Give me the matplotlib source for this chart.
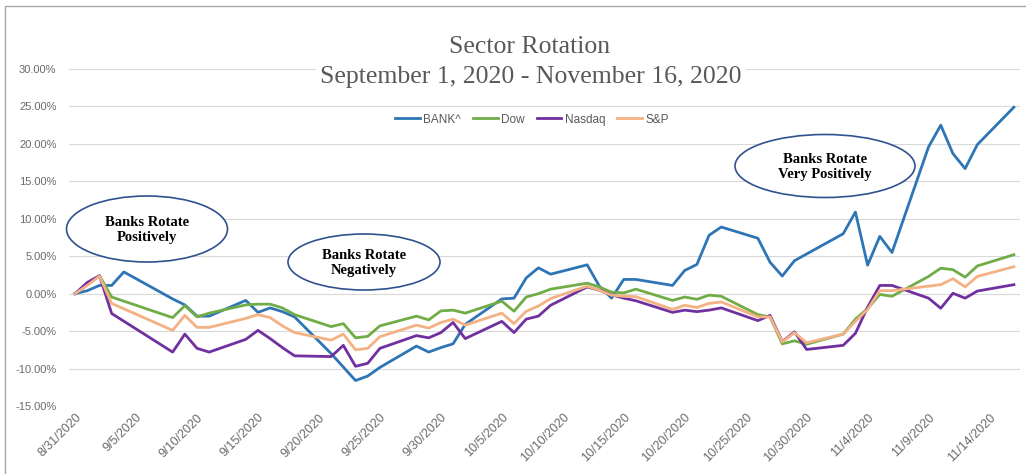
import numpy as np
import pandas as pd
import matplotlib
matplotlib.use("Agg")
import matplotlib.pyplot as plt
from matplotlib.patches import Ellipse, Rectangle
from matplotlib.ticker import FuncFormatter, MultipleLocator


# -----------------------------
# Data (percent change since 8/31/2020)
# -----------------------------
dates = [
    "8/31", "9/1", "9/2", "9/3", "9/4", "9/8", "9/9", "9/10", "9/11",
    "9/14", "9/15", "9/16", "9/17", "9/18", "9/21", "9/22", "9/23", "9/24",
    "9/25", "9/28", "9/29", "9/30", "10/1", "10/2", "10/5", "10/6", "10/7",
    "10/8", "10/9", "10/12", "10/13", "10/14", "10/15", "10/16", "10/19",
    "10/20", "10/21", "10/22", "10/23", "10/26", "10/27", "10/28", "10/29",
    "10/30", "11/2", "11/3", "11/4", "11/5", "11/6", "11/9", "11/10",
    "11/11", "11/12", "11/13", "11/16",
]

bank = [
    0.0, 0.4, 1.1, 1.1, 2.9, -0.7, -1.5, -3.0, -3.0,
    -0.9, -2.5, -1.9, -2.4, -3.1, -8.0, -9.8, -11.6, -11.0,
    -9.85, -7.0, -7.8, -7.2, -6.7, -4.1, -0.7, -0.6, 2.1,
    3.45, 2.6, 3.85, 1.0, -0.6, 1.9, 1.9, 1.1,
    3.1, 3.9, 7.8, 8.9, 7.4, 4.2, 2.35, 4.4,
    5.3, 8.0, 10.9, 3.8, 7.65, 5.5, 19.6, 22.5,
    18.7, 16.7, 19.9, 24.9,
]

dow = [
    0.0, 1.2, 2.4, -0.45, None, -3.2, -1.6, -3.1, -2.6,
    -1.5, -1.4, -1.4, -1.9, -2.8, -4.4, -4.0, -5.9, -5.7,
    -4.3, -3.0, -3.5, -2.3, -2.2, -2.6, -1.0, -2.35, -0.45,
    0.0, 0.6, 1.4, 0.9, 0.2, 0.1, 0.6, -0.9,
    -0.45, -0.75, -0.2, -0.35, -2.8, -3.1, -6.7, -6.3,
    -6.75, -5.4, -3.4, -2.0, -0.1, -0.35, 2.3, 3.4,
    3.2, 2.2, 3.7, 5.2,
]

nasdaq = [
    0.0, 1.5, 2.4, -2.65, None, -7.8, -5.4, -7.3, -7.8,
    -6.1, -4.9, -6.0, -7.2, -8.3, -8.4, -6.9, -9.7, -9.3,
    -7.3, -5.6, -5.9, -5.2, -3.85, -6.0, -3.7, -5.2, -3.4,
    -3.0, -1.55, 0.9, 0.45, -0.15, -0.6, -0.95, -2.5,
    -2.2, -2.4, -2.2, -1.9, -3.6, -2.9, -6.4, -5.1,
    -7.45, -6.9, -5.3, -1.8, 1.1, 1.1, -0.6, -1.95,
    0.05, -0.6, 0.35, 1.2,
]

sp = [
    0.0, 1.1, 2.35, -1.3, None, -4.9, -2.9, -4.5, -4.5,
    -3.3, -2.8, -3.2, -4.3, -5.2, -6.2, -5.4, -7.5, -7.3,
    -5.75, -4.2, -4.6, -3.85, -3.4, -4.2, -2.6, -4.0, -2.35,
    -1.65, -0.65, 1.0, 0.45, -0.2, -0.35, -0.4, -2.1,
    -1.55, -1.85, -1.3, -1.1, -3.1, -3.1, -6.45, -5.2,
    -6.55, -5.4, -3.7, -2.1, 0.4, 0.4, 1.0, 1.2,
    2.0, 0.9, 2.3, 3.6,
]

series_names = ["BANK^", "Dow", "Nasdaq", "S&P"]
series_colors = ["#2E75B6", "#70AD47", "#7030A0", "#F4B183"]

notes = ["Banks Rotate\nPositively", "Banks Rotate\nNegatively",
         "Banks Rotate\nVery Positively"]

GRAY = "#595959"
SANS = ["Liberation Sans Narrow", "Liberation Sans", "DejaVu Sans"]
SERIF = ["Liberation Serif", "DejaVu Serif"]


def to_dates(labels):
    return pd.to_datetime([d + "/2020" for d in labels], format="%m/%d/%Y")


def pct_label(v, _pos):
    return f"{v:.2f}%"


def date_label(d):
    return f"{d.month}/{d.day}/{d.year}"


# -----------------------------
# Plotting
# -----------------------------
def main():
    x = to_dates(dates)

    fig = plt.figure(figsize=(10.26, 4.74), dpi=100)
    ax = fig.add_axes([69 / 1026, 1 - 406 / 474, 951 / 1026, 337 / 474])

    for name, vals, color in zip(series_names, [bank, dow, nasdaq, sp], series_colors):
        y = np.array([np.nan if v is None else v for v in vals], dtype=float)
        ok = ~np.isnan(y)
        ax.plot(x[ok], y[ok], color=color, lw=2.0, label=name,
                solid_joinstyle="round")

    # axes
    ax.set_ylim(-15, 30)
    ax.yaxis.set_major_locator(MultipleLocator(5))
    ax.yaxis.set_major_formatter(FuncFormatter(pct_label))
    ax.set_xlim(x[0] - pd.Timedelta(hours=12), x[-1] + pd.Timedelta(hours=12))

    ticks = pd.date_range(x[0], x[-1], freq="5D")
    ax.set_xticks(ticks)
    ax.set_xticklabels([date_label(t) for t in ticks], rotation=45,
                       ha="right", va="top", rotation_mode="anchor",
                       family=SANS, fontsize=9, color="#6A6A6A")
    for lab in ax.get_yticklabels():
        lab.set_family(SANS)
        lab.set_fontsize(8)
        lab.set_color("#6A6A6A")

    ax.tick_params(axis="both", length=0)
    ax.tick_params(axis="y", pad=9)
    ax.tick_params(axis="x", pad=4)
    ax.grid(axis="y", color="#D9D9D9", lw=0.8)
    ax.set_axisbelow(True)
    for s in ax.spines.values():
        s.set_visible(False)

    # legend
    ax.legend(loc="upper center", bbox_to_anchor=(532 / 1026, 1 - 103 / 474),
              bbox_transform=fig.transFigure, ncol=4, frameon=False,
              prop={"family": SANS, "size": 8.5}, labelcolor=GRAY,
              handlelength=2.1, handletextpad=0.3, columnspacing=1.0)

    # title
    fig.text(530 / 1026, 1 - 47 / 474, "Sector Rotation", ha="center",
             va="center", family=SERIF, fontsize=18.5, color=GRAY)
    fig.text(531 / 1026, 1 - 77 / 474, "September 1, 2020 - November 16, 2020",
             ha="center", va="center", family=SERIF, fontsize=18.5, color=GRAY,
             bbox=dict(boxstyle="square,pad=0.15", fc="white", ec="none"))

    # annotation ellipses
    boxes = [(147, 229, 161, 66), (364, 262, 152, 56), (825, 166, 180, 63)]
    for (cx, cy, w, h), note in zip(boxes, notes):
        e = Ellipse((cx / 1026, 1 - cy / 474), w / 1026, h / 474,
                    transform=fig.transFigure, fc="white", ec="#2F528F",
                    lw=1.2, zorder=5)
        fig.add_artist(e)
        fig.text(cx / 1026, 1 - (cy + 1) / 474, note, ha="center", va="center",
                 family=SERIF, fontsize=10.5, fontweight="bold",
                 linespacing=1.15, zorder=6)

    # chart frame
    fig.add_artist(Rectangle((5 / 1026, -0.1), 1.2, 1 - 6 / 474 + 0.1,
                             transform=fig.transFigure, fill=False,
                             ec="#A6A6A6", lw=1.0))

    fig.savefig("out.png", dpi=100)
    plt.close(fig)


if __name__ == "__main__":
    main()
